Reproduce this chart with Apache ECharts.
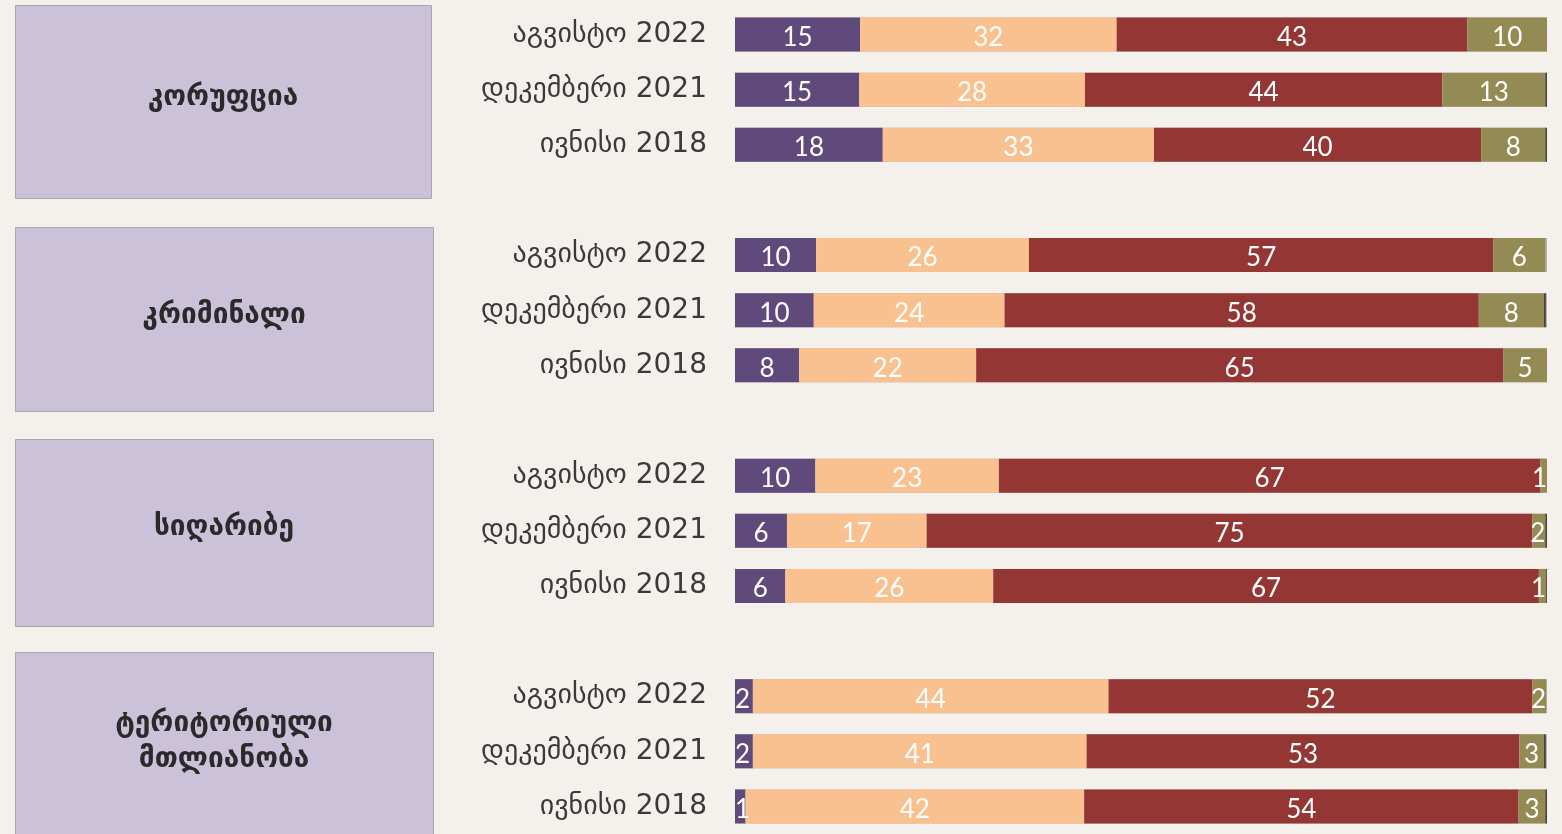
<!DOCTYPE html>
<html>
<head>
<meta charset="utf-8">
<script src="https://cdn.jsdelivr.net/npm/echarts@6/dist/echarts.min.js"></script>
<style>
html,body{margin:0;padding:0;background:#f4f1ec;}
#c{width:1562px;height:834px;}
</style>
</head>
<body>
<div id="c"></div>
<script>
// ---- data ----
var topics = ['კორუფცია', 'კრიმინალი', 'სიღარიბე', 'ტერიტორიული\nმთლიანობა'];
var periods = ['აგვისტო 2022', 'დეკემბერი 2021', 'ივნისი 2018'];
// values per row (topic x period)
var purple = [15.4, 15.3, 18.2,  10.0, 9.7, 7.9,   9.9, 6.4, 6.2,   2.2, 2.2, 1.3];
var peach  = [31.6, 27.8, 33.4,  26.2, 23.5, 21.8,  22.6, 17.2, 25.6, 43.8, 41.1, 41.7];
var red    = [43.2, 44.0, 40.3,  57.2, 58.4, 64.9,  66.7, 74.6, 67.2, 52.2, 53.3, 53.5];
var olive  = [9.8, 12.7, 7.9,    6.4, 8.0, 5.4,     0.9, 1.6, 0.9,    1.7, 3.0, 3.3];
var dark   = [0, 0.25, 0.25,     0, 0.25, 0,        0, 0.25, 0.25,    0, 0.25, 0.25];
var fullRow = [100, 100, 100,  100, 100, 100,  100, 100, 100,  100, 100, 100];

// ---- build rows with gap slots between topics ----
var cats = [];
function withGaps(arr, smallPos) {
  var out = [];
  for (var t = 0; t < topics.length; t++) {
    if (t > 0) out.push(null);
    for (var p = 0; p < periods.length; p++) {
      var v = arr[t * periods.length + p];
      if (smallPos && v < 2.5) {
        out.push({ value: v, label: { position: smallPos, distance: 0 } });
      } else out.push(v);
    }
  }
  return out;
}
for (var t = 0; t < topics.length; t++) {
  if (t > 0) cats.push(' ');
  for (var p = 0; p < periods.length; p++) cats.push(periods[p]);
}

var chart = echarts.init(document.getElementById('c'));
var labelStyle = {
  show: true, position: 'inside', color: '#ffffff', offset: [0, 3],
  fontFamily: 'Lato, "Open Sans", sans-serif', fontSize: 26,
  formatter: function (p) { return p.value == null ? '' : Math.round(p.value); }
};
function mk(name, data, color, lbl, smallPos, extra) {
  var s = {
    name: name, type: 'bar', stack: 'all', barWidth: 34, z: 3,
    data: withGaps(data, smallPos), itemStyle: { color: color },
    label: lbl ? labelStyle : { show: false },
    emphasis: { disabled: true }, animation: false
  };
  if (extra) for (var k in extra) s[k] = extra[k];
  return s;
}

var boxes = [
  { y: 5, h: 193, w: 416 },
  { y: 227, h: 184, w: 418 },
  { y: 439, h: 187, w: 418 },
  { y: 652, h: 190, w: 418 }
];
var graphics = [];
boxes.forEach(function (b, i) {
  graphics.push({
    type: 'rect', left: 15, top: b.y, silent: true,
    shape: { width: b.w, height: b.h },
    style: { fill: '#cbc2da', stroke: '#a9a6ac', lineWidth: 1 }
  });
  graphics.push({
    type: 'text', silent: true,
    x: 15 + b.w / 2, y: [98, 316, 528, 742][i],
    style: {
      text: topics[i], fill: '#2a2a2a', align: 'center', verticalAlign: 'middle',
      font: 'bold 28px "DejaVu Sans", sans-serif', lineHeight: 36
    }
  });
});

chart.setOption({
  backgroundColor: '#f4f1ec',
  animation: false,
  grid: { left: 735, right: 15, top: 7, height: 830 },
  xAxis: { type: 'value', min: 0, max: 100, show: false },
  yAxis: {
    type: 'category', inverse: true, data: cats,
    axisLine: { show: false }, axisTick: { show: false },
    axisLabel: {
      color: '#3a3a3a', fontSize: 28, margin: 28,
      fontFamily: '"DejaVu Sans", sans-serif'
    }
  },
  graphic: graphics,
  series: [
    {
      name: 'outline', type: 'bar', barWidth: 34, barGap: '-100%', z: 2,
      data: withGaps(fullRow), silent: true,
      itemStyle: { color: 'rgba(0,0,0,0)', borderColor: '#b9b1aa', borderWidth: 2 },
      label: { show: false }, emphasis: { disabled: true }
    },
    mk('s1', purple, '#5f4a7b', true, 'insideLeft'),
    mk('s2', peach, '#f9c18f', true),
    mk('s3', red, '#943634', true),
    mk('s4', olive, '#948a54', true, 'insideRight'),
    mk('s5', dark, '#4b4232', false)
  ]
});
</script>
</body>
</html>
